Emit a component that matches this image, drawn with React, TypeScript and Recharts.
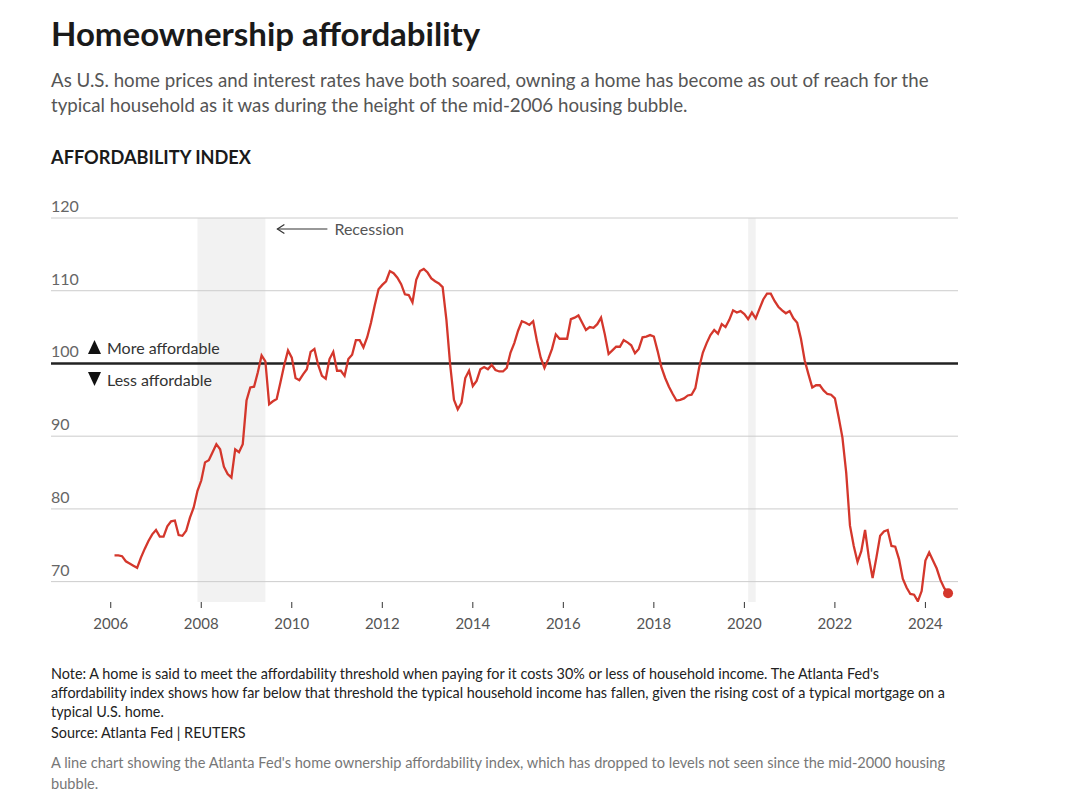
import React from "react";
import {
  LineChart,
  Line,
  XAxis,
  YAxis,
  ReferenceArea,
  ReferenceLine,
} from "recharts";

// monthly Atlanta Fed home ownership affordability index, Feb 2006 - Jul 2024
const FIRST_YEAR = 2006;
const FIRST_MONTH = 1; // 0 = Jan

const affordabilityIndex = [
  // 2006 (from Feb)
  73.6, 73.6, 73.5, 72.8, 72.5, 72.2, 71.9, 73.3, 74.5, 75.6, 76.5,
  // 2007
  77.1, 76.2, 76.2, 77.6, 78.3, 78.4, 76.4, 76.3, 77.0, 78.8, 80.2, 82.5,
  // 2008
  83.9, 86.4, 86.7, 87.8, 88.9, 88.2, 85.8, 84.8, 84.3, 88.2, 87.8, 88.9,
  // 2009
  94.9, 96.7, 96.8, 98.8, 101.1, 100.3, 94.4, 94.8, 95.1, 97.4, 99.8, 101.8,
  // 2010
  100.8, 98.0, 97.7, 98.5, 99.2, 101.6, 102.0, 99.8, 98.3, 97.9, 100.6, 101.6,
  // 2011
  99.0, 99.0, 98.3, 100.6, 101.2, 103.2, 103.2, 102.2, 103.6, 105.6, 108.0, 110.2,
  // 2012
  110.8, 111.3, 112.7, 112.4, 111.8, 110.9, 109.5, 109.4, 108.4, 111.5, 112.7, 113.0,
  // 2013
  112.5, 111.7, 111.3, 111.0, 110.5, 106.0, 99.8, 95.0, 93.7, 94.6, 98.0, 99.0,
  // 2014
  96.9, 97.6, 99.2, 99.5, 99.2, 99.8, 99.1, 98.9, 98.9, 99.4, 101.5, 102.8,
  // 2015
  104.5, 105.8, 105.6, 105.3, 105.8, 103.1, 100.8, 99.4, 100.6, 102.0, 104.0, 103.4,
  // 2016
  103.4, 103.4, 106.1, 106.3, 106.6, 105.6, 104.6, 105.0, 104.9, 105.4, 106.3, 104.0,
  // 2017
  101.3, 101.8, 102.3, 102.3, 103.2, 102.9, 102.5, 101.4, 102.0, 103.6, 103.7, 103.9,
  // 2018
  103.7, 101.7, 99.5, 98.0, 96.8, 95.8, 94.9, 95.0, 95.2, 95.6, 95.7, 96.6,
  // 2019
  99.4, 101.5, 102.8, 103.9, 104.6, 104.1, 105.4, 105.0, 106.0, 107.3, 107.0, 107.2,
  // 2020
  106.8, 106.1, 107.0, 106.2, 107.5, 108.8, 109.6, 109.6, 108.6, 107.8, 107.3, 106.9,
  // 2021
  107.2, 106.2, 105.6, 103.4, 100.4, 98.5, 96.7, 97.0, 97.0, 96.3, 95.8, 95.7,
  // 2022
  95.2, 92.6, 89.8, 85.0, 77.7, 74.9, 72.7, 74.2, 77.1, 73.3, 70.5, 73.3,
  // 2023
  76.3, 76.9, 77.1, 74.9, 74.8, 73.1, 70.4, 69.2, 68.3, 68.2, 67.3, 68.7,
  // 2024
  72.9, 74.0, 72.9, 71.8, 70.2, 69.1, 68.4,
];

const yearTicks = [2006, 2008, 2010, 2012, 2014, 2016, 2018, 2020, 2022, 2024];
const indexTicks = [70, 80, 90, 100, 110, 120];
const greatRecession = [2007 + 11 / 12, 2009 + 5 / 12]; // Dec 2007 - Jun 2009
const covidRecession = [2020 + 1 / 12, 2020 + 3 / 12]; // Feb - Apr 2020

const data = affordabilityIndex.map((v, i) => ({
  t: FIRST_YEAR + (FIRST_MONTH + i) / 12,
  index: v,
}));

const RED = "#d4372c";
const FONT = "Lato, 'Noto Sans', sans-serif";
const Y_AXIS_W = 30;
const LEFT_MARGIN = 13;

// labels sit above their gridline, flush with the plot's left edge
const YTick = (props: any) => {
  const { y, payload } = props;
  return (
    <text x={LEFT_MARGIN + Y_AXIS_W} y={y - 6} fill="#666" fontSize={16} fontFamily={FONT} textAnchor="start">
      {payload.value}
    </text>
  );
};

const RecessionLabel = (props: any) => {
  const { viewBox } = props;
  const x = viewBox.x + viewBox.width + 12;
  const y = viewBox.y + 11;
  return (
    <g>
      <line x1={x} y1={y} x2={x + 50} y2={y} stroke="#333" strokeWidth={1.2} />
      <polyline points={`${x + 7},${y - 4.5} ${x},${y} ${x + 7},${y + 4.5}`} fill="none" stroke="#333" strokeWidth={1.2} />
      <text x={x + 57} y={y + 6} fill="#555" fontSize={16} fontFamily={FONT}>
        Recession
      </text>
    </g>
  );
};

const ThresholdLabel = (props: any) => {
  const { viewBox } = props;
  const x = viewBox.x + 37;
  const y = viewBox.y;
  return (
    <g fontFamily={FONT} fontSize={16} fill="#333">
      <polygon points={`${x},${y - 9.5} ${x + 13},${y - 9.5} ${x + 6.5},${y - 23.5}`} fill="#111" />
      <text x={x + 19} y={y - 9.5}>More affordable</text>
      <polygon points={`${x},${y + 8.5} ${x + 13},${y + 8.5} ${x + 6.5},${y + 22.5}`} fill="#111" />
      <text x={x + 19} y={y + 22.5}>Less affordable</text>
    </g>
  );
};

const lastIndex = data.length - 1;

const EndDot = (props: any) => {
  const { cx, cy, index } = props;
  if (index !== lastIndex) return <g key={`d${index}`} />;
  return <circle key={`d${index}`} cx={cx} cy={cy} r={5} fill={RED} />;
};

export default function App() {
  return (
    <div style={{ position: "relative", width: 1064, height: 791, fontFamily: FONT, background: "#fff" }}>
      <div style={{ position: "absolute", left: 43, top: 7, fontSize: 33, lineHeight: "36px", fontWeight: 700, color: "#1a1a1a", whiteSpace: "nowrap" }}>
        Homeownership affordability
      </div>
      <div style={{ position: "absolute", left: 43, top: 59.5, fontSize: 18.7, lineHeight: "25px", color: "#555", whiteSpace: "nowrap" }}>
        As U.S. home prices and interest rates have both soared, owning a home has become as out of reach for the
        <br />
        typical household as it was during the height of the mid-2006 housing bubble.
      </div>
      <div style={{ position: "absolute", left: 43, top: 139, fontSize: 18.2, lineHeight: "20px", fontWeight: 700, color: "#1a1a1a", whiteSpace: "nowrap" }}>
        AFFORDABILITY INDEX
      </div>

      <div style={{ position: "absolute", left: 0, top: 180 }}>
        <LineChart width={1000} height={459} data={data} margin={{ top: 30, right: 50, left: LEFT_MARGIN, bottom: 0 }}>
          <ReferenceArea
            x1={greatRecession[0]}
            x2={greatRecession[1]}
            fill="#f2f2f2"
            fillOpacity={1}
            stroke="none"
            label={<RecessionLabel />}
          />
          <ReferenceArea x1={covidRecession[0]} x2={covidRecession[1]} fill="#f2f2f2" fillOpacity={1} stroke="none" />
          {indexTicks
            .filter((v) => v !== 100)
            .map((v) => (
              <ReferenceLine key={v} y={v} stroke="#cccccc" strokeWidth={1} />
            ))}
          <XAxis
            dataKey="t"
            type="number"
            domain={[2004.68, 2024.72]}
            ticks={yearTicks}
            tickFormatter={(v) => String(v)}
            axisLine={false}
            tickLine={{ stroke: "#333", strokeWidth: 1 }}
            tickSize={6}
            tickMargin={10}
            tick={{ fill: "#555", fontSize: 15, fontFamily: FONT }}
            height={45}
            allowDataOverflow
          />
          <YAxis
            type="number"
            domain={[67.2, 120]}
            ticks={indexTicks}
            width={Y_AXIS_W}
            axisLine={false}
            tickLine={false}
            tick={(p: any) => <YTick {...p} />}
            allowDataOverflow
          />
          <ReferenceLine y={100} stroke="#222" strokeWidth={2.5} label={<ThresholdLabel />} />
          <Line
            type="linear"
            dataKey="index"
            stroke={RED}
            strokeWidth={2.3}
            dot={<EndDot />}
            activeDot={false}
            isAnimationActive={false}
          />
        </LineChart>
      </div>

      <div style={{ position: "absolute", left: 43, top: 655.5, fontSize: 14.4, lineHeight: "19px", color: "#222", whiteSpace: "nowrap" }}>
        Note: A home is said to meet the affordability threshold when paying for it costs 30% or less of household income. The Atlanta Fed's
        <br />
        affordability index shows how far below that threshold the typical household income has fallen, given the rising cost of a typical mortgage on a
        <br />
        typical U.S. home.
      </div>
      <div style={{ position: "absolute", left: 43, top: 714.5, fontSize: 14.4, lineHeight: "19px", color: "#222", whiteSpace: "nowrap" }}>
        Source: Atlanta Fed | REUTERS
      </div>
      <div style={{ position: "absolute", left: 43, top: 743.5, fontSize: 14.6, lineHeight: "21px", color: "#777", whiteSpace: "nowrap" }}>
        A line chart showing the Atlanta Fed's home ownership affordability index, which has dropped to levels not seen since the mid-2000 housing
        <br />
        bubble.
      </div>
    </div>
  );
}
